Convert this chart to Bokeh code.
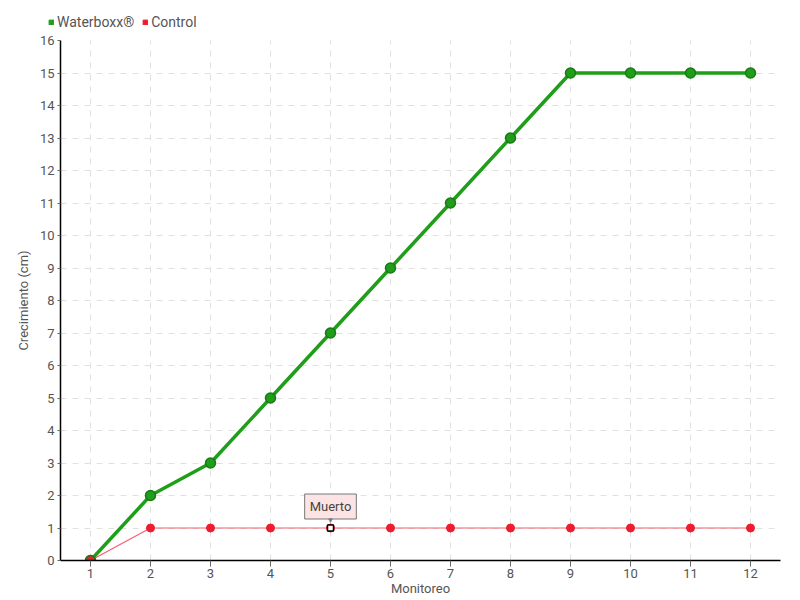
from bokeh.plotting import figure
from bokeh.layouts import column
from bokeh.models import Legend, LegendItem, Label, FixedTicker, Range1d
from bokeh.embed import file_html
from bokeh.resources import INLINE

monitoreo = [1, 2, 3, 4, 5, 6, 7, 8, 9, 10, 11, 12]
waterboxx = [0, 2, 3, 5, 7, 9, 11, 13, 15, 15, 15, 15]
control = [0, 1, 1, 1, 1, 1, 1, 1, 1, 1, 1, 1]
y_ticks = list(range(0, 17))
FONT = "Roboto"
GREEN = "#1f9e1a"
RED = "#ee1c2e"

p = figure(width=800, height=568, output_backend="svg", toolbar_location=None,
           x_range=Range1d(0.5, 12.5), y_range=Range1d(0, 16),
           min_border_left=60, min_border_right=20, min_border_top=8, min_border_bottom=40)
p.outline_line_color = None
p.background_fill_color = "white"

for ax in (p.xaxis[0], p.yaxis[0]):
    ax.axis_line_color = "black"
    ax.axis_line_width = 1.5
    ax.major_tick_line_color = "#666666"
    ax.minor_tick_line_color = None
    ax.major_label_text_font = FONT
    ax.major_label_text_font_size = "13px"
    ax.major_label_text_color = "#555555"
    ax.axis_label_text_font = FONT
    ax.axis_label_text_font_size = "13px"
    ax.axis_label_text_color = "#555555"
    ax.axis_label_text_font_style = "normal"

p.xaxis.ticker = FixedTicker(ticks=monitoreo)
p.yaxis.ticker = FixedTicker(ticks=y_ticks)
p.xaxis.major_tick_out = 6
p.xaxis.major_tick_in = 0
p.yaxis.major_tick_out = 3
p.yaxis.major_tick_in = 0
p.xaxis.major_label_standoff = 2
p.yaxis.major_label_standoff = 3
p.xaxis.axis_label = "Monitoreo"
p.yaxis.axis_label = "Crecimiento (cm)"
p.xaxis.axis_label_standoff = 0
p.yaxis.axis_label_standoff = 6

p.xgrid.grid_line_color = "#e0e0e0"
p.ygrid.grid_line_color = "#e0e0e0"
p.xgrid.grid_line_dash = "6 6"
p.ygrid.grid_line_dash = "6 6"

p.line(monitoreo, waterboxx, line_color=GREEN, line_width=3.5)
p.scatter(monitoreo, waterboxx, size=10, fill_color=GREEN, line_color="#187a15", line_width=1.5)
p.line(monitoreo, control, line_color="#f4606e", line_width=1.2)
p.scatter(monitoreo, control, size=8, fill_color=RED, line_color=RED)
p.scatter([monitoreo[0]], [waterboxx[0]], size=10, fill_color=RED, line_color="#187a15", line_width=1.5)
p.scatter([monitoreo[4]], [control[4]], marker="square", size=6, fill_color="white",
          line_color="black", line_width=1.5)

lbl = Label(x=monitoreo[4], y=control[4], y_offset=9, text="Muerto", text_align="center",
            text_baseline="bottom", text_font=FONT, text_font_size="13px", text_color="#444444",
            background_fill_color="#fde4e4", border_line_color="#777777", padding=5)
p.add_layout(lbl)
ptr = Label(x=monitoreo[4], y=control[4], y_offset=3, text="▼", text_align="center",
            text_baseline="bottom", text_font=FONT, text_font_size="8px", text_color="#777777")
p.add_layout(ptr)

# legend strip above the plot
top = figure(width=800, height=32, output_backend="svg", toolbar_location=None,
             x_range=Range1d(0, 1), y_range=Range1d(0, 1),
             x_axis_location=None, y_axis_location=None, min_border=0)
top.outline_line_color = None
top.xgrid.visible = False
top.ygrid.visible = False
nan = float("nan")
r_g = top.quad(left=[nan], right=[nan], bottom=[nan], top=[nan], fill_color=GREEN, line_color=GREEN)
r_r = top.quad(left=[nan], right=[nan], bottom=[nan], top=[nan], fill_color=RED, line_color=RED)
legend = Legend(items=[LegendItem(label="Waterboxx®", renderers=[r_g]),
                       LegendItem(label="Control", renderers=[r_r])],
                orientation="horizontal", location=(48, 2), margin=0,
                glyph_width=6, glyph_height=6, label_standoff=3, spacing=8, padding=0,
                label_text_font=FONT, label_text_font_size="14px", label_text_color="#555555",
                label_height=16, border_line_color=None, background_fill_alpha=0)
top.add_layout(legend, "center")

open("out.html", "w").write(file_html(column(column(top), p, spacing=0), INLINE))
